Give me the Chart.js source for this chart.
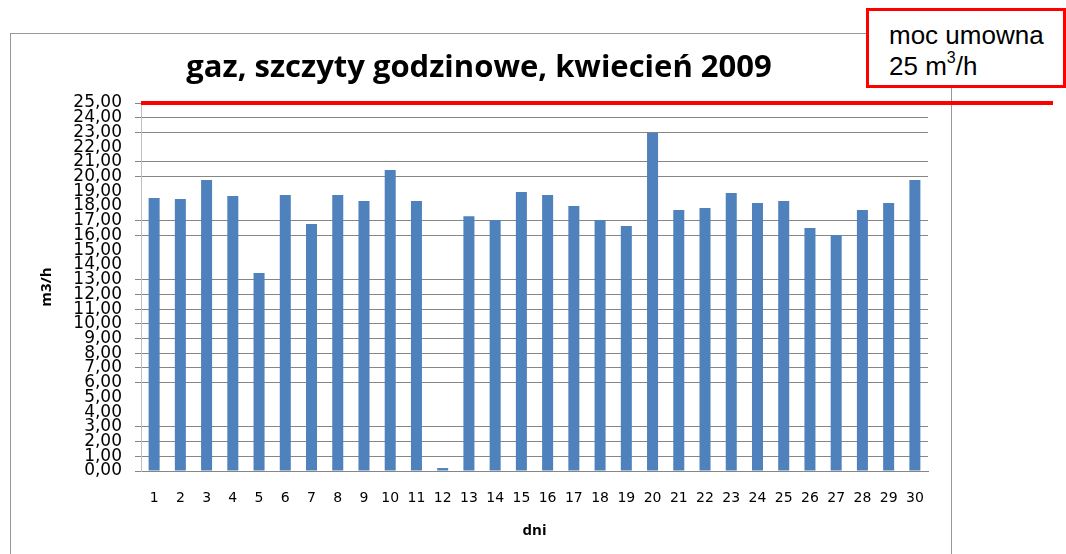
<!DOCTYPE HTML>
<html lang="pl">
<head>
    <meta charset="utf-8" />
    <title>gaz, szczyty godzinowe, kwiecień 2009</title>
    <script src="https://cdn.jsdelivr.net/npm/chart.js"></script>
    <style>
        body { margin: 0; background: #fff; }
        #wrap { position: relative; width: 1066px; height: 554px; overflow: hidden; }
        #frame { position: absolute; left: 10px; top: 33px; width: 940px; height: 600px; border: 1px solid #979797; }
        #chart { position: absolute; left: 0; top: 0; }
        #note {
            position: absolute; left: 866px; top: 8px; width: 200px; height: 80px;
            box-sizing: border-box; border: 3px solid #ff0000; background: #fff;
            font-family: "Liberation Sans", Arial, sans-serif; font-size: 26px; line-height: 31px;
            padding: 9px 0 0 20px; color: #000;
        }
        #note sup { font-size: 16px; vertical-align: 12px; line-height: 0; }
    </style>
</head>
<body>
<div id="wrap">
    <div id="frame"></div>
    <canvas id="chart" width="1066" height="554"></canvas>
    <div id="note">moc umowna<br>25 m<sup>3</sup>/h</div>
</div>
<script>
    // dni kwietnia
    const dni = ['1','2','3','4','5','6','7','8','9','10','11','12','13','14','15',
                 '16','17','18','19','20','21','22','23','24','25','26','27','28','29','30'];
    // szczyty godzinowe m3/h
    const szczyty = [18.55, 18.48, 19.77, 18.68, 13.45, 18.75, 16.78, 18.75, 18.34, 20.45,
                     18.34, 0.20, 17.30, 17.05, 18.95, 18.75, 18.00, 17.05, 16.64, 22.98,
                     17.73, 17.87, 18.89, 18.20, 18.34, 16.50, 16.03, 17.73, 18.20, 19.77];
    const mocUmowna = 25;
    // linie siatki, ktore nie sa widoczne na oryginale
    const ukryteLinie = [4, 5, 14, 15, 18, 19, 22];

    const linieMocy = {
        id: 'linieMocy',
        afterDatasetsDraw(chart) {
            const ctx = chart.ctx;
            const y = chart.scales.y.getPixelForValue(mocUmowna);
            ctx.save();
            ctx.strokeStyle = '#ff0000';
            ctx.lineWidth = 4;
            ctx.beginPath();
            ctx.moveTo(chart.chartArea.left, y);
            ctx.lineTo(1053, y);
            ctx.stroke();
            ctx.restore();
        }
    };

    new Chart(document.getElementById('chart'), {
        type: 'bar',
        data: {
            labels: dni,
            datasets: [{
                label: 'szczyty godzinowe',
                data: szczyty,
                backgroundColor: '#4f81bd',
                barPercentage: 0.42,
                categoryPercentage: 1
            }]
        },
        options: {
            responsive: false,
            animation: false,
            layout: { padding: { left: 30, right: 138, top: 0, bottom: 8 } },
            plugins: {
                legend: { display: false },
                tooltip: { enabled: false },
                title: {
                    display: true,
                    text: 'gaz, szczyty godzinowe, kwiecień 2009',
                    color: '#000',
                    font: { family: 'Open Sans', weight: 'bold', size: 31, lineHeight: 1.2 },
                    padding: { top: 49.4, bottom: 16.4 }
                }
            },
            scales: {
                x: {
                    afterFit(scale) { scale.height = 75; },
                    grid: { display: false, drawTicks: false },
                    border: { display: true, color: '#868686' },
                    ticks: {
                        color: '#000', padding: 19, maxRotation: 0, autoSkip: false,
                        font: { family: 'DejaVu Sans', size: 14 }
                    },
                    title: {
                        display: true, text: 'dni', color: '#000',
                        font: { family: 'Open Sans', weight: 'bold', size: 15 },
                        padding: { top: 0, bottom: 6 }
                    }
                },
                y: {
                    min: 0,
                    max: 25,
                    afterFit(scale) { scale.width = 111; },
                    grid: {
                        color: (c) => ukryteLinie.includes(c.tick.value) ? 'rgba(0,0,0,0)' : '#868686',
                        tickLength: 6
                    },
                    border: { color: '#c0c0c0' },
                    ticks: {
                        stepSize: 1, autoSkip: false, color: '#000', padding: 13,
                        font: { family: 'DejaVu Sans', size: 17 },
                        callback: (v) => v.toFixed(2).replace('.', ',')
                    },
                    title: {
                        display: true, text: 'm3/h', color: '#000',
                        font: { family: 'Open Sans', weight: 'bold', size: 15 },
                        padding: { top: 8, bottom: 0 }
                    }
                }
            }
        },
        plugins: [linieMocy]
    });
</script>
</body>
</html>
